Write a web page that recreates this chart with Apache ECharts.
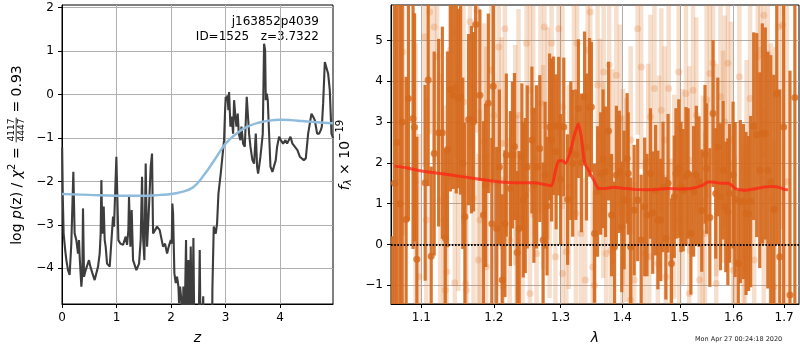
<!DOCTYPE html>
<html><head><meta charset="utf-8">
<script src="https://cdn.jsdelivr.net/npm/echarts@6/dist/echarts.min.js"></script>
<style>html,body{margin:0;padding:0;background:#fff}#c{width:800px;height:350px}</style>
</head><body><div id="c"></div>
<script>
// ---------- Left panel: log p(z) ----------
const pzZ = [
 0.003,0.015,0.030,0.060,0.080,0.110,0.140,0.171,0.208,0.232,
 0.263,0.294,0.312,0.324,0.355,0.373,0.385,0.404,0.434,0.459,
 0.495,0.520,0.557,0.599,0.630,0.661,0.691,0.709,0.722,0.740,
 0.765,0.783,0.801,0.826,0.875,0.911,0.936,0.954,0.997,1.034,
 1.070,1.119,1.168,1.193,1.217,1.229,1.254,1.278,1.303,1.364,
 1.413,1.443,1.468,1.486,1.511,1.535,1.560,1.590,1.627,1.651,
 1.670,1.706,1.743,1.792,1.829,1.853,1.890,1.927,1.957,1.994,
 2.012,2.024,2.037,2.061,2.086,2.110,2.135,2.147,2.165,2.190,
 2.208,2.226,2.239,2.251,2.275,2.294,2.318,2.336,2.361,2.385,
 2.410,2.430,2.500,2.526,2.544,2.575,2.590,2.605,2.752,2.758,
 2.783,2.820,2.844,2.869,2.911,2.954,2.972,2.991,3.003,3.015,
 3.034,3.052,3.064,3.089,3.113,3.138,3.156,3.180,3.199,3.223,
 3.242,3.272,3.291,3.321,3.352,3.388,3.431,3.456,3.492,3.523,
 3.554,3.578,3.596,3.615,3.639,3.664,3.682,3.706,3.725,3.737,
 3.755,3.774,3.798,3.823,3.859,3.890,3.920,3.945,3.982,4.012,
 4.055,4.098,4.128,4.190,4.226,4.269,4.318,4.361,4.391,4.434,
 4.471,4.514,4.544,4.575,4.606,4.636,4.679,4.716,4.746,4.765,
 4.789,4.820,4.850,4.881,4.911,4.942,4.970];
const pzLog = [
 -1.22,-2.40,-3.20,-3.60,-3.81,-4.04,-4.15,-3.43,-1.78,-3.20,
 -3.35,-3.66,-3.35,-3.73,-4.42,-4.11,-2.62,-4.19,-4.04,-4.04,
 -3.81,-3.96,-4.11,-4.27,-4.11,-3.96,-3.66,-3.20,-1.97,-3.20,
 -2.58,-3.35,-3.50,-3.89,-3.96,-3.96,-2.81,-3.04,-1.43,-3.35,
 -3.43,-3.46,-3.27,-3.46,-3.12,-2.35,-3.50,-2.66,-3.81,-4.04,
 -3.89,-3.35,-1.89,-3.27,-3.81,-1.59,-3.50,-2.74,-1.66,-1.36,
 -3.20,-3.12,-3.04,-3.12,-3.35,-3.50,-3.43,-3.66,-3.50,-3.35,
 -3.43,-2.51,-2.74,-4.11,-4.34,-4.19,-4.42,-4.80,-4.42,-4.73,
 -6.00,-4.42,-6.00,-6.00,-3.35,-6.00,-3.81,-6.00,-3.50,-6.00,
 -3.30,-6.00,-6.00,-3.58,-6.00,-6.00,-4.64,-6.00,-6.00,-4.50,
 -3.04,-3.20,-2.97,-2.28,-1.82,-1.28,-1.05,-0.36,-0.05,-0.13,
 -0.02,-0.36,0.06,-0.74,-0.51,-0.90,-0.13,-0.51,-0.74,-0.44,
 -0.90,-1.05,-0.74,-1.13,-1.20,-0.05,-0.90,-1.20,-1.51,-1.59,
 -0.90,-1.66,-1.82,-1.66,-1.43,-1.13,-0.90,1.17,1.02,-0.13,
 0.02,-0.13,-0.90,-1.66,-1.78,-1.78,-1.51,-1.20,-0.97,-1.05,
 -1.13,-1.05,-1.13,-0.97,-1.13,-1.20,-1.28,-1.43,-1.47,-1.51,
 -1.47,-0.90,-0.90,-0.44,-0.51,-0.59,-0.90,-0.90,-0.82,-0.74,
 -0.21,0.75,0.79,0.48,0.10,-0.90,-1.00];
const priorZ = [0,0.5,1.0,1.5,1.8,2.0,2.2,2.4,2.6,2.8,3.0,3.2,3.4,3.6,3.8,4.0,4.2,4.4,4.6,4.8,4.97];
const priorLog = [-2.29,-2.31,-2.33,-2.33,-2.31,-2.29,-2.24,-2.14,-1.86,-1.50,-1.13,-0.90,-0.74,-0.65,-0.60,-0.58,-0.59,-0.61,-0.63,-0.65,-0.66];
const leftXTicks = [0,1,2,3,4];
const leftYTicks = [-4,-3,-2,-1,0,1,2];

// ---------- Right panel: spectrum ----------
const binLam = [
 1.062,1.065,1.068,1.072,1.075,
 1.080,1.083,1.089,1.091,1.094,1.105,1.109,1.113,1.117,1.123,
 1.128,1.132,1.135,1.139,1.143,1.147,1.150,1.153,1.156,1.159,
 1.164,1.168,1.171,1.174,1.180,1.185,1.188,1.192,1.197,1.199,
 1.204,1.208,1.212,1.216,1.218,1.224,1.227,1.234,1.237,1.241,
 1.243,1.249,1.256,1.259,1.263,1.268,1.273,1.279,1.283,1.286,
 1.289,1.293,1.305,1.311,1.319,1.328,1.338,1.341,1.346,1.349,
 1.354,1.364,1.372,1.377,1.382,1.387,1.390,1.395,1.399,1.403,
 1.408,1.410,1.414,1.420,1.426,1.432,1.438,1.442,1.448,1.452,
 1.457,1.461,1.466,1.470,1.475,1.479,1.485,1.490,1.493,1.498,
 1.502,1.506,1.511,1.515,1.520,1.525,1.530,1.535,1.540,1.546,
 1.549,1.555,1.561,1.566,1.570,1.575,1.580,1.585,1.589,1.592,
 1.599,1.603,1.609,1.613,1.619,1.624,1.629,1.633,1.639,1.645,
 1.651,1.656,1.662,1.667,1.673,1.679,1.685,1.691,1.699,1.712,
 1.722,
 1.230,1.246,1.276,1.297,1.300,1.316,1.324,1.333,1.359,1.368];
const binFlux = [
 -2.0,1.5,2.5,1.0,3.0,
 0.61,3.58,3.09,2.87,-0.36,1.51,4.03,-0.29,2.23,2.74,
 2.74,0.15,2.33,3.80,3.66,3.85,3.58,3.62,1.99,0.68,
 3.06,3.06,3.01,5.39,3.66,0.72,1.45,3.46,0.51,3.88,
 0.39,1.90,-0.87,0.51,2.19,1.37,2.19,-0.20,0.39,2.15,
 1.09,1.90,2.56,1.45,1.90,2.35,0.11,0.94,2.88,2.56,
 2.91,2.27,2.88,1.10,1.99,3.33,3.62,2.39,3.36,3.37,
 0.27,1.74,1.78,2.78,0.72,-0.06,1.70,1.78,0.43,1.09,
 2.11,1.74,-0.06,0.84,1.09,0.11,0.92,0.72,1.74,0.78,
 1.33,0.60,0.60,1.41,0.15,1.50,-0.47,1.17,1.74,1.86,
 1.41,1.33,1.67,1.74,0.27,1.30,1.70,1.54,0.83,2.21,
 1.86,0.66,3.21,1.25,2.39,1.17,1.82,0.92,0.80,1.25,
 1.70,1.10,-0.47,1.05,1.05,0.76,0.76,1.05,2.90,2.68,
 1.82,2.72,2.72,1.82,1.54,0.86,3.70,-0.30,2.88,-1.24,
 3.60,
 2.40,1.20,1.70,2.90,1.60,2.30,2.20,2.00,1.30,2.10];
const binErr = [
 2.2,6.0,6.0,5.0,4.5,
 3.5,3.0,3.2,2.8,3.0,2.4,2.6,2.2,2.5,2.3,
 2.6,2.2,2.4,2.5,2.3,2.6,2.2,2.4,2.1,2.3,
 2.1,2.3,2.2,2.4,2.1,2.3,2.0,2.2,2.1,2.3,
 2.0,1.9,2.1,1.8,2.0,1.9,1.8,2.0,1.9,1.8,
 1.9,2.0,1.8,1.9,2.0,1.8,1.9,1.7,1.8,2.0,
 1.7,1.9,1.7,1.6,1.8,1.7,1.6,1.8,1.7,1.6,
 1.7,1.5,1.6,1.7,1.5,1.6,1.7,1.5,1.6,1.7,
 1.6,1.5,1.7,1.6,1.5,1.6,1.7,1.5,1.6,1.5,
 1.6,1.7,1.5,1.6,1.5,1.7,1.6,1.5,1.6,1.7,
 1.6,1.5,1.7,1.6,1.5,1.6,1.7,1.6,1.5,1.7,
 1.6,1.7,1.8,1.6,1.7,1.8,1.7,1.6,1.8,1.7,
 1.8,1.9,1.8,2.0,1.9,2.0,1.9,2.1,2.3,2.5,
 2.4,2.7,2.6,2.9,3.1,3.3,3.7,4.1,4.6,5.5,
 6.0,
 1.8,1.9,1.8,1.7,1.6,1.7,1.6,1.7,1.6,1.7];
const rawLam = [
 1.0707,1.0758,1.097,1.104,1.111,1.117,1.121,1.125,1.130,1.134,
 1.139,1.145,1.147,1.150,1.157,1.160,1.166,1.171,1.176,1.180,
 1.186,1.189,1.196,1.200,1.204,1.207,1.211,1.216,1.223,1.231,
 1.236,1.242,1.248,1.253,1.258,1.263,1.269,1.275,1.280,1.286,
 1.292,1.297,1.303,1.309,1.313,1.321,1.326,1.332,1.339,1.343,
 1.347,1.354,1.359,1.363,1.369,1.373,1.378,1.383,1.390,1.396,
 1.401,1.407,1.414,1.420,1.426,1.432,1.438,1.444,1.448,1.455,
 1.461,1.467,1.473,1.480,1.484,1.490,1.498,1.505,1.511,1.517,
 1.524,1.530,1.536,1.542,1.549,1.555,1.561,1.567,1.575,1.583,
 1.589,1.595,1.602,1.611,1.619,1.625,1.632,1.640,1.647,1.652,
 1.659,1.667,1.673,1.682,1.689,1.697,1.706,
 1.0923,1.1065,1.132,1.161,1.178,1.213,1.233,1.253,1.283,1.303,
 1.324,1.351,1.381,1.400,1.414,1.446,1.475,1.499,1.517,1.546,
 1.567,1.599,1.622,1.659,1.679,1.189,1.273,1.368,1.463,1.580];
const rawFlux = [
 1.54,4.72,-0.79,5.09,5.70,5.33,4.60,1.09,0.60,-0.67,
 4.76,-0.94,5.21,1.66,3.50,-0.96,5.46,1.13,5.74,0.60,
 2.52,-0.55,4.27,3.17,1.50,4.84,2.48,5.29,0.11,2.19,
 3.17,0.64,4.93,3.78,3.25,-0.22,3.46,5.33,2.72,4.93,
 -0.30,5.29,3.37,-0.18,1.41,3.70,4.93,0.27,-0.87,4.76,
 5.70,-1.00,3.91,2.64,4.23,-0.22,4.40,1.90,4.15,3.09,
 1.41,1.09,2.56,-0.87,5.29,4.35,-0.22,2.03,3.13,3.82,
 -0.47,3.29,2.56,3.82,-0.30,1.17,4.23,1.41,3.70,2.07,
 3.78,3.17,-0.87,1.05,3.54,4.19,4.44,1.82,3.62,3.01,
 4.44,2.56,-0.42,4.11,-0.55,1.82,3.58,-0.38,4.60,4.76,
 5.62,4.68,1.13,0.84,5.33,5.38,1.54,
 1.54,0.60,-1.12,-1.12,-0.38,-1.04,0.68,-1.20,1.09,-0.71,
 0.76,-0.55,-0.14,0.76,-1.36,-0.30,-0.79,0.60,-1.20,0.27,
 -0.96,-0.63,-0.30,0.11,-1.04,2.15,1.90,1.58,1.74,2.15];
const rawErr = [
 5.0,4.5,3.5,3.2,3.0,3.3,2.9,3.1,2.8,3.0,
 3.2,2.9,3.1,2.8,3.0,2.7,3.1,2.8,3.0,2.7,
 2.9,2.6,2.8,2.7,2.5,2.8,2.6,2.9,2.5,2.7,
 2.6,2.4,2.8,2.5,2.6,2.4,2.7,2.5,2.6,2.8,
 2.4,2.6,2.5,2.3,2.5,2.6,2.4,2.3,2.5,2.4,
 2.6,2.3,2.5,2.4,2.6,2.3,2.5,2.4,2.6,2.3,
 2.4,2.5,2.3,2.4,2.6,2.5,2.3,2.4,2.5,2.6,
 2.4,2.5,2.3,2.6,2.4,2.5,2.6,2.4,2.5,2.3,
 2.6,2.4,2.5,2.6,2.4,2.7,2.5,2.6,2.8,2.6,
 2.7,2.9,2.6,2.8,3.0,2.7,3.0,3.2,3.1,3.3,
 3.5,3.4,3.8,4.0,4.5,5.0,5.5,
 3.4,3.0,2.9,2.8,2.6,2.7,2.5,2.6,2.4,2.5,
 2.4,2.5,2.3,2.4,2.5,2.4,2.5,2.3,2.4,2.5,
 2.6,2.7,2.8,3.2,3.6,2.7,2.5,2.4,2.4,2.6];
const modelLam = [1.065,1.08,1.10,1.12,1.14,1.16,1.18,1.20,1.22,1.24,1.26,1.275,1.286,1.292,1.297,1.303,1.308,1.315,1.322,1.328,1.333,1.338,1.345,1.352,1.36,1.37,1.385,1.40,1.42,1.44,1.46,1.48,1.50,1.52,1.54,1.552,1.56,1.575,1.59,1.605,1.62,1.64,1.66,1.675,1.69,1.70,1.708];
const modelFlux = [1.92,1.88,1.80,1.75,1.70,1.65,1.60,1.55,1.52,1.51,1.51,1.47,1.44,1.80,2.05,2.05,1.99,2.25,2.70,2.96,2.60,2.00,1.80,1.60,1.38,1.37,1.40,1.38,1.35,1.34,1.35,1.37,1.36,1.37,1.44,1.53,1.53,1.50,1.50,1.36,1.33,1.36,1.41,1.42,1.40,1.35,1.34];
const rightXTicks = [1.1,1.2,1.3,1.4,1.5,1.6,1.7];
const rightYTicks = [-1,0,1,2,3,4,5];

// ---------- chart ----------
const FONT = '"DejaVu Sans", sans-serif';
const ORANGE = '#d5691d';
const LY = [-4.82, 2.06], RY = [-1.46, 5.87], RX = [1.0606, 1.7306];
const minus = v => (v < 0 ? '\u2212' + (-v) : String(v));

function errorBar(lw, color, yr) {
  return function (params, api) {
    const x = api.value(0);
    const lo = Math.max(api.value(1), yr[0]), hi = Math.min(api.value(2), yr[1]);
    if (hi <= lo) return null;
    const a = api.coord([x, lo]), b = api.coord([x, hi]);
    return {type: 'line', shape: {x1: a[0], y1: a[1], x2: b[0], y2: b[1]},
            style: {stroke: color, lineWidth: lw}};
  };
}

function axisBase(ticks, fmt, extra) {
  return Object.assign({
    axisLine: {show: true, onZero: false, lineStyle: {color: '#000', width: 1}},
    axisTick: {show: true, inside: false, length: 4, customValues: ticks, lineStyle: {color: '#000', width: 1}},
    axisLabel: {customValues: ticks, formatter: fmt, fontSize: 12, color: '#000', fontFamily: FONT, margin: 8},
    splitLine: {show: true, lineStyle: {color: '#b0b0b0', width: 1}}
  }, extra);
}

// text measurement for rotated axis labels
const mctx = document.createElement('canvas').getContext('2d');
function buildLabel(pieces, cx, cy) {
  let w = 0;
  pieces.forEach(p => {
    mctx.font = p.font;
    p.w = p.fracTop ? Math.max(mctx.measureText(p.fracTop).width, mctx.measureText(p.fracBot).width) + 3 : mctx.measureText(p.text).width;
    w += p.w;
  });
  let x = -w / 2;
  const children = [];
  pieces.forEach(p => {
    if (p.fracTop) {
      const mid = x + p.w / 2;
      children.push({type: 'text', x: mid, y: -5.5, style: {text: p.fracTop, font: p.font, fill: '#000', align: 'center', verticalAlign: 'middle', textAlign: 'center', textVerticalAlign: 'middle'}});
      children.push({type: 'text', x: mid, y: 4.5, style: {text: p.fracBot, font: p.font, fill: '#000', align: 'center', verticalAlign: 'middle', textAlign: 'center', textVerticalAlign: 'middle'}});
      children.push({type: 'line', shape: {x1: x + 0.5, y1: -0.8, x2: x + p.w - 0.5, y2: -0.8}, style: {stroke: '#000', lineWidth: 0.8}});
    } else {
      children.push({type: 'text', x: x, y: p.dy || 0, style: {text: p.text, font: p.font, fill: '#000', align: 'left', verticalAlign: 'middle', textAlign: 'left', textVerticalAlign: 'middle'}});
    }
    x += p.w;
  });
  return {type: 'group', x: cx, y: cy, rotation: Math.PI / 2, children: children};
}
const F14 = '14px "DejaVu Sans"', I14 = 'italic 14px "DejaVu Sans"', F10 = '10px "DejaVu Sans"', I10 = 'italic 10px "DejaVu Sans"', F9 = '9px "DejaVu Sans"';
const leftLabel = buildLabel([
  {text: 'log ', font: F14}, {text: 'p', font: I14}, {text: '(z) / ', font: F14},
  {text: '\u03c7', font: I14}, {text: '2', font: F10, dy: -5}, {text: ' = ', font: F14},
  {fracTop: '4117', fracBot: '4447', font: F9}, {text: ' = 0.93', font: F14}
], 17, 155);
const rightLabel = buildLabel([
  {text: 'f', font: I14}, {text: '\u03bb', font: I10, dy: 3}, {text: ' \u00d7 10', font: F14},
  {text: '\u221219', font: F10, dy: -5}
], 345, 155);

const chart = echarts.init(document.getElementById('c'), null, {renderer: 'canvas'});
chart.setOption({
  animation: false,
  backgroundColor: '#fff',
  grid: [
    {left: 62, top: 5, width: 271, height: 299, show: true, borderColor: '#000', borderWidth: 1, backgroundColor: 'rgba(0,0,0,0)', containLabel: false, outerBoundsMode: 'none'},
    {left: 391, top: 5, width: 408, height: 299, show: true, borderColor: '#000', borderWidth: 1, backgroundColor: 'rgba(0,0,0,0)', containLabel: false, outerBoundsMode: 'none'}
  ],
  xAxis: [
    axisBase(leftXTicks, v => String(v), {gridIndex: 0, type: 'value', min: 0, max: 4.97,
      name: 'z', nameLocation: 'middle', nameGap: 27,
      nameTextStyle: {fontStyle: 'italic', fontSize: 14, fontFamily: FONT, color: '#000'}}),
    axisBase(rightXTicks, v => Number(v).toFixed(1), {gridIndex: 1, type: 'log', logBase: 10, min: RX[0], max: RX[1],
      name: '\u03bb', nameLocation: 'middle', nameGap: 27,
      nameTextStyle: {fontStyle: 'italic', fontSize: 14, fontFamily: FONT, color: '#000'}})
  ],
  yAxis: [
    axisBase(leftYTicks, minus, {gridIndex: 0, type: 'value', min: LY[0], max: LY[1]}),
    axisBase(rightYTicks, minus, {gridIndex: 1, type: 'value', min: RY[0], max: RY[1]})
  ],
  graphic: [
    leftLabel, rightLabel,
    {type: 'text', x: 319, y: 22, style: {text: 'j163852p4039', font: '12px "DejaVu Sans"', fill: '#000', align: 'right', verticalAlign: 'middle', textAlign: 'right', textVerticalAlign: 'middle'}},
    {type: 'text', x: 319, y: 37, style: {text: 'ID=1525   z=3.7322', font: '12px "DejaVu Sans"', fill: '#000', align: 'right', verticalAlign: 'middle', textAlign: 'right', textVerticalAlign: 'middle'}},
    {type: 'text', x: 695, y: 339, style: {text: 'Mon Apr 27 00:24:18 2020', font: '6.5px "DejaVu Sans"', fill: '#222', align: 'left', verticalAlign: 'middle', textAlign: 'left', textVerticalAlign: 'middle'}}
  ],
  series: [
    {type: 'line', xAxisIndex: 0, yAxisIndex: 0, data: pzZ.map((z, i) => [z, pzLog[i]]),
     showSymbol: false, symbol: 'none', clip: true, lineStyle: {color: '#3d3d3d', width: 2.1}, z: 3},
    {type: 'line', xAxisIndex: 0, yAxisIndex: 0, data: priorZ.map((z, i) => [z, priorLog[i]]),
     showSymbol: false, symbol: 'none', smooth: 0.4, clip: true, lineStyle: {color: '#8fbcdc', width: 2.4}, z: 4},
    {type: 'custom', xAxisIndex: 1, yAxisIndex: 1, clip: true, z: 2,
     data: rawLam.map((l, i) => [l, rawFlux[i] - rawErr[i], rawFlux[i] + rawErr[i]]),
     encode: {x: 0, y: [1, 2]}, renderItem: errorBar(4.5, 'rgba(222,120,45,0.24)', RY)},
    {type: 'scatter', xAxisIndex: 1, yAxisIndex: 1, clip: true, z: 2,
     data: rawLam.map((l, i) => [l, rawFlux[i]]), symbolSize: 7,
     itemStyle: {color: 'rgba(222,120,45,0.3)'}},
    {type: 'custom', xAxisIndex: 1, yAxisIndex: 1, clip: true, z: 3,
     data: binLam.map((l, i) => [l, binFlux[i] - binErr[i], binFlux[i] + binErr[i]]),
     encode: {x: 0, y: [1, 2]}, renderItem: errorBar(3.2, 'rgba(213,105,29,0.92)', RY)},
    {type: 'scatter', xAxisIndex: 1, yAxisIndex: 1, clip: true, z: 3,
     data: binLam.map((l, i) => [l, binFlux[i]]), symbolSize: 7,
     itemStyle: {color: ORANGE}},
    {type: 'line', xAxisIndex: 1, yAxisIndex: 1, data: modelLam.map((l, i) => [l, modelFlux[i]]),
     showSymbol: false, symbol: 'none', smooth: 0.2, clip: true, z: 4,
     lineStyle: {color: 'rgba(255,35,20,0.75)', width: 3},
     markLine: {silent: true, symbol: 'none', label: {show: false},
       lineStyle: {color: '#000', width: 1.8, type: [1.6, 1.6]},
       data: [{yAxis: 0}]}}
  ]
});
</script></body></html>
